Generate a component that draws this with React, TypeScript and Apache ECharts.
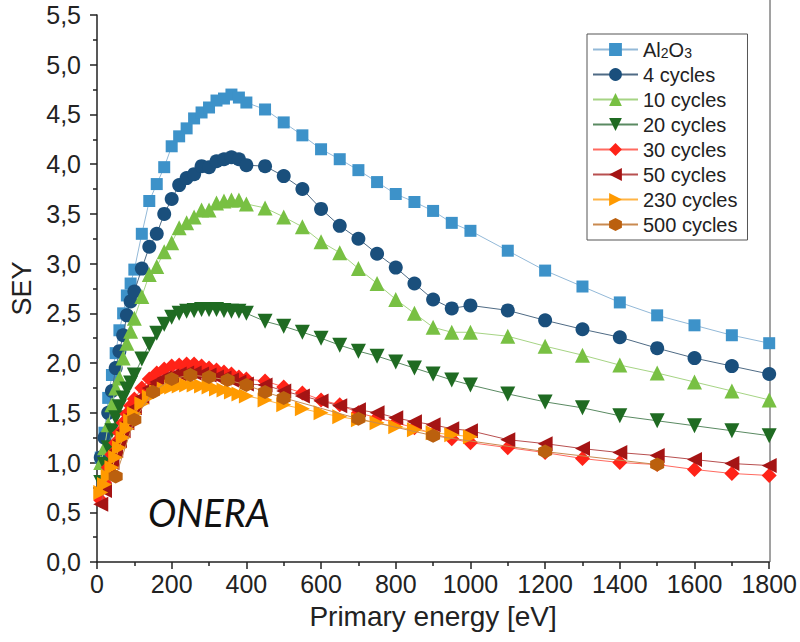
import React, { useEffect, useRef } from "react";
import * as echarts from "echarts";

const FONT = "'Liberation Sans', Arial, sans-serif";

// Primary energies (eV)
const energies = [10, 20, 30, 40, 50, 60, 70, 80, 90, 100, 120, 140, 160, 180, 200, 220, 240, 260, 280, 300, 320, 340, 360, 380, 400, 450, 500, 550, 600, 650, 700, 750, 800, 850, 900, 950, 1000, 1100, 1200, 1300, 1400, 1500, 1600, 1700, 1800];
const energies500 = [50, 100, 150, 200, 250, 300, 350, 400, 450, 500, 700, 900, 1200, 1500];

const seriesNames = ["Al2O3", "4 cycles", "10 cycles", "20 cycles", "30 cycles", "50 cycles", "230 cycles", "500 cycles"];

const al2o3 = [1.05, 1.30, 1.65, 1.88, 2.10, 2.33, 2.50, 2.68, 2.80, 2.94, 3.30, 3.63, 3.80, 3.97, 4.18, 4.28, 4.36, 4.46, 4.52, 4.57, 4.64, 4.66, 4.70, 4.67, 4.62, 4.55, 4.42, 4.29, 4.15, 4.05, 3.94, 3.82, 3.70, 3.62, 3.53, 3.41, 3.33, 3.13, 2.93, 2.77, 2.61, 2.48, 2.38, 2.28, 2.20];
const cycles4 = [1.05, 1.25, 1.50, 1.72, 1.95, 2.12, 2.28, 2.48, 2.62, 2.72, 2.95, 3.17, 3.30, 3.50, 3.65, 3.79, 3.86, 3.90, 3.98, 3.97, 4.03, 4.05, 4.07, 4.05, 3.99, 3.98, 3.88, 3.75, 3.55, 3.38, 3.25, 3.10, 2.96, 2.80, 2.64, 2.55, 2.58, 2.53, 2.43, 2.34, 2.26, 2.15, 2.05, 1.97, 1.89];
const cycles10 = [1.00, 1.15, 1.38, 1.58, 1.75, 1.85, 2.05, 2.20, 2.32, 2.45, 2.67, 2.89, 2.97, 3.12, 3.21, 3.36, 3.41, 3.47, 3.54, 3.54, 3.61, 3.63, 3.64, 3.64, 3.60, 3.56, 3.47, 3.37, 3.22, 3.11, 2.95, 2.80, 2.64, 2.50, 2.36, 2.31, 2.31, 2.27, 2.17, 2.08, 1.98, 1.90, 1.81, 1.72, 1.63];
const cycles20 = [0.80, 0.98, 1.15, 1.32, 1.45, 1.56, 1.65, 1.74, 1.80, 1.88, 2.04, 2.19, 2.30, 2.39, 2.46, 2.50, 2.52, 2.53, 2.54, 2.54, 2.54, 2.53, 2.52, 2.52, 2.50, 2.42, 2.37, 2.31, 2.25, 2.18, 2.12, 2.07, 2.01, 1.95, 1.89, 1.83, 1.78, 1.69, 1.61, 1.55, 1.47, 1.42, 1.37, 1.32, 1.27];
const cycles30 = [0.62, 0.80, 0.95, 1.08, 1.20, 1.30, 1.40, 1.49, 1.57, 1.64, 1.75, 1.84, 1.90, 1.94, 1.97, 1.98, 1.99, 1.99, 1.97, 1.95, 1.93, 1.91, 1.89, 1.86, 1.84, 1.82, 1.76, 1.70, 1.63, 1.58, 1.50, 1.45, 1.40, 1.35, 1.29, 1.24, 1.20, 1.15, 1.10, 1.04, 1.00, 0.98, 0.93, 0.89, 0.87];
const cycles50 = [0.58, 0.72, 0.88, 1.00, 1.12, 1.22, 1.32, 1.40, 1.48, 1.55, 1.66, 1.75, 1.81, 1.85, 1.87, 1.89, 1.90, 1.90, 1.89, 1.88, 1.86, 1.85, 1.83, 1.81, 1.79, 1.78, 1.72, 1.67, 1.62, 1.57, 1.53, 1.50, 1.45, 1.41, 1.38, 1.34, 1.32, 1.23, 1.19, 1.14, 1.10, 1.07, 1.03, 0.99, 0.97];
const cycles230 = [0.70, 0.78, 0.86, 0.95, 1.05, 1.15, 1.25, 1.34, 1.42, 1.49, 1.59, 1.66, 1.71, 1.74, 1.76, 1.77, 1.78, 1.78, 1.77, 1.76, 1.74, 1.73, 1.71, 1.69, 1.67, 1.63, 1.58, 1.54, 1.50, 1.46, 1.43, 1.40, 1.36, 1.33, 1.30, 1.28, 1.26];
const cycles500 = [0.86, 1.43, 1.71, 1.84, 1.88, 1.86, 1.83, 1.78, 1.71, 1.65, 1.44, 1.27, 1.11, 0.98];

const yTicks = ["0,0", "0,5", "1,0", "1,5", "2,0", "2,5", "3,0", "3,5", "4,0", "4,5", "5,0", "5,5"];

const HEX = "path://M50,0 L93.3,25 L93.3,75 L50,100 L6.7,75 L6.7,25 Z";

const pair = (xs: number[], ys: number[]) => ys.map((y, i) => [xs[i], y]);

const styles = [
  { color: "#3d92c9", line: "#93b9d8", symbol: "rect", size: 12, rotate: 0 },
  { color: "#1a4f7c", line: "#4f6b85", symbol: "circle", size: 14, rotate: 0 },
  { color: "#78c043", line: "#a6d484", symbol: "triangle", size: 15, rotate: 0 },
  { color: "#1f6b22", line: "#5a8a62", symbol: "triangle", size: 15, rotate: 180 },
  { color: "#ff2318", line: "#ff6a60", symbol: "diamond", size: 15, rotate: 0 },
  { color: "#a51414", line: "#b85050", symbol: "triangle", size: 15, rotate: 90 },
  { color: "#ff9a00", line: "#ffb445", symbol: "triangle", size: 15, rotate: -90 },
  { color: "#bb600e", line: "#c98a50", symbol: HEX, size: 14, rotate: 0 },
];

const dataSets = [
  pair(energies, al2o3),
  pair(energies, cycles4),
  pair(energies, cycles10),
  pair(energies, cycles20),
  pair(energies, cycles30),
  pair(energies, cycles50),
  pair(energies, cycles230),
  pair(energies500, cycles500),
];

export default function App() {
  const ref = useRef<HTMLDivElement>(null);
  useEffect(() => {
    if (!ref.current) return;
    const chart = echarts.init(ref.current, null, { renderer: "svg" });
    const axisColor = "#222";
    chart.setOption({
      animation: false,
      backgroundColor: "#fff",
      grid: { left: 96, right: 30, top: 15, bottom: 80 },
      xAxis: {
        type: "value",
        min: 0,
        max: 1800,
        interval: 200,
        name: "Primary energy [eV]",
        nameLocation: "middle",
        nameGap: 40,
        nameTextStyle: { fontSize: 28, color: axisColor, fontFamily: FONT },
        axisLine: { lineStyle: { color: axisColor, width: 1.5 } },
        axisTick: { length: 7, lineStyle: { color: axisColor, width: 1.5 } },
        minorTick: { show: true, splitNumber: 2, length: 4, lineStyle: { color: axisColor, width: 1.5 } },
        axisLabel: { fontSize: 25, color: axisColor, margin: 9, fontFamily: FONT, formatter: (v: number) => String(v) },
        splitLine: { show: false },
      },
      yAxis: {
        type: "value",
        min: 0,
        max: 5.5,
        interval: 0.5,
        name: "SEY",
        nameLocation: "middle",
        nameGap: 62,
        nameTextStyle: { fontSize: 27, color: axisColor, fontFamily: FONT },
        axisLine: { show: true, lineStyle: { color: axisColor, width: 1.5 } },
        axisTick: { show: true, length: 7, lineStyle: { color: axisColor, width: 1.5 } },
        minorTick: { show: true, splitNumber: 2, length: 4, lineStyle: { color: axisColor, width: 1.5 } },
        axisLabel: {
          fontSize: 25,
          color: axisColor,
          margin: 16,
          fontFamily: FONT,
          formatter: (v: number) => yTicks[Math.round(v / 0.5)] ?? "",
        },
        splitLine: { show: false },
      },
      legend: {
        orient: "vertical",
        left: 587,
        top: 34,
        itemWidth: 45,
        itemHeight: 16,
        itemGap: 4,
        padding: [5, 10, 5, 5],
        borderColor: "#555",
        borderWidth: 1,
        data: seriesNames,
        formatter: (name: string) => (name === "Al2O3" ? "Al{sub|2}O{sub|3}" : name),
        textStyle: {
          fontSize: 20,
          lineHeight: 21,
          color: axisColor,
          fontFamily: FONT,
          rich: {
            sub: { fontSize: 14, verticalAlign: "bottom", padding: [10, 0, 0, 0], fontFamily: FONT, color: axisColor },
          },
        },
      },
      series: dataSets.map((d, i) => ({
        name: seriesNames[i],
        type: "line",
        data: d,
        symbol: styles[i].symbol,
        symbolSize: styles[i].size,
        symbolRotate: styles[i].rotate,
        showAllSymbol: true,
        itemStyle: { color: styles[i].color },
        lineStyle: { color: styles[i].line, width: 1 },
        z: 2 + i,
      })),
      graphic: [
        { type: "line", shape: { x1: 770, y1: 0, x2: 770, y2: 562 }, style: { stroke: "#444", lineWidth: 1 } },
        {
          type: "text",
          x: 148,
          y: 512,
          style: {
            text: "ONERA",
            font: "italic 38px Lato, 'Open Sans', sans-serif",
            fill: "#111",
            textVerticalAlign: "middle",
          },
        },
      ],
    });
    return () => chart.dispose();
  }, []);
  return <div ref={ref} style={{ position: "fixed", left: 0, top: 0, width: 800, height: 642 }} />;
}
